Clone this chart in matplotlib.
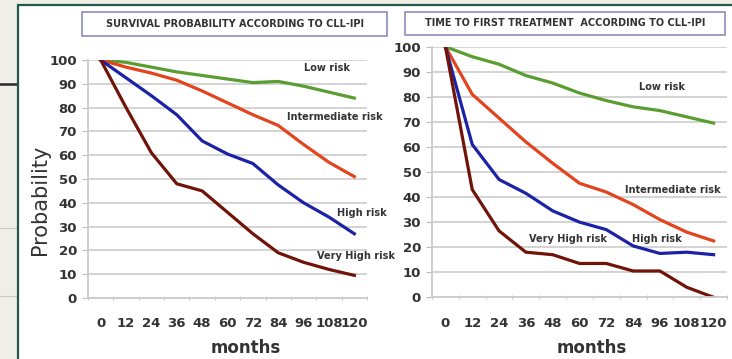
import numpy as np
import matplotlib.pyplot as plt
from matplotlib.patches import Rectangle

plt.rcParams['font.family'] = ['DejaVu Sans']

months = [0, 12, 24, 36, 48, 60, 72, 84, 96, 108, 120]
tick_labels = ['0', '12', '24', '36', '48', '60', '72', '84', '96', '108', '120']

# overall survival by CLL-IPI group (%)
os_low = [100, 99, 97, 95, 93.5, 92, 90.5, 91, 89, 86.5, 84]
os_inter = [100, 97, 94.5, 91.5, 87, 82, 77, 72.5, 64.5, 57, 51]
os_high = [100, 92.5, 85, 77, 66, 60.5, 56.5, 47.5, 40, 34, 27]
os_vhigh = [100, 80, 61, 48, 45, 36, 27, 19, 15, 12, 9.5]

# time to first treatment by CLL-IPI group (%)
ttft_low = [100, 96, 93, 88.5, 85.5, 81.5, 78.5, 76, 74.5, 72, 69.5]
ttft_inter = [100, 81, 71.5, 62, 53.5, 45.5, 42, 37, 31, 26, 22.5]
ttft_high = [100, 61, 47, 41.5, 34.5, 30, 27, 20.5, 17.5, 18, 17]
ttft_vhigh = [100, 43, 26.5, 18, 17, 13.5, 13.5, 10.5, 10.5, 4, 0]

c_low = '#5a9e32'
c_inter = '#e2451e'
c_high = '#1c22a6'
c_vhigh = '#701409'
txt = '#333333'

fig = plt.figure(figsize=(7.32, 3.59), dpi=100)
fig.patch.set_facecolor('#f0efe7')

# white slide panel with dark border (runs off the right and bottom edges)
W, H = 732.0, 359.0
fig.patches.append(Rectangle((18 / W, -0.1), 1.0, 1.1 - 5 / H, transform=fig.transFigure,
                             facecolor='white', edgecolor='#1f5a4a', linewidth=1.6, zorder=-10))
fig.lines.append(plt.Line2D([0, 18 / W], [1 - 84 / H] * 2, transform=fig.transFigure,
                            color='#2a2a2a', linewidth=1.8, zorder=-10))
for yy in (228, 296):
    fig.lines.append(plt.Line2D([0, 18 / W], [1 - yy / H] * 2, transform=fig.transFigure,
                                color='#c8c8c0', linewidth=0.8, zorder=-10))


def setup(ax):
    ax.set_xlim(-6, 126)
    ax.set_ylim(0, 100)
    ax.set_xticks(months)
    ax.set_xticklabels(tick_labels)
    ax.set_xticks(np.arange(-6, 127, 12), minor=True)
    ax.set_yticks(np.arange(0, 101, 10))
    ax.tick_params(axis='x', which='major', length=0, pad=14, labelsize=9.5, labelcolor=txt)
    ax.tick_params(axis='x', which='minor', length=3, color='#bbbbbb', direction='inout')
    ax.tick_params(axis='y', length=4, color='#bbbbbb', pad=4, labelsize=9.5, labelcolor=txt)
    for lab in ax.get_xticklabels() + ax.get_yticklabels():
        lab.set_fontweight('bold')
    ax.grid(axis='y', color='#d0d0d0', linewidth=1.3)
    ax.set_axisbelow(True)
    for s in ('top', 'right'):
        ax.spines[s].set_visible(False)
    for s in ('left', 'bottom'):
        ax.spines[s].set_color('#cccccc')
        ax.spines[s].set_linewidth(1.3)
    ax.set_facecolor('none')
    ax.set_zorder(5)


def title_box(x0, x1, y0, y1, text):
    fig.patches.append(Rectangle((x0 / W, 1 - y1 / H), (x1 - x0) / W, (y1 - y0) / H,
                                 transform=fig.transFigure, facecolor='white',
                                 edgecolor='#8c8cc0', linewidth=1.2, zorder=-5))
    fig.text((x0 + x1) / 2 / W, 1 - (y0 + y1) / 2 / H, text, ha='center', va='center',
             fontsize=7, fontweight='bold', color=txt)


lw = 2.3

# survival
ax1 = fig.add_axes([88 / W, 1 - 298 / H, 279 / W, 238 / H])
setup(ax1)
ax1.plot(months, os_low, color=c_low, lw=lw)
ax1.plot(months, os_inter, color=c_inter, lw=lw)
ax1.plot(months, os_high, color=c_high, lw=lw)
ax1.plot(months, os_vhigh, color=c_vhigh, lw=lw)
lab = dict(ha='center', va='center', fontsize=7, fontweight='bold', color=txt)
ax1.text(107, 96.6, 'Low risk', **lab)
ax1.text(110.7, 76, 'Intermediate risk', **lab)
ax1.text(123.5, 35.7, 'High risk', **lab)
ax1.text(121, 17.6, 'Very High risk', **lab)
title_box(82, 387, 12, 36, 'SURVIVAL PROBABILITY ACCORDING TO CLL-IPI')

# time to first treatment
ax2 = fig.add_axes([432 / W, 1 - 297.3 / H, 295 / W, 250.6 / H])
setup(ax2)
ax2.plot(months, ttft_low, color=c_low, lw=lw)
ax2.plot(months, ttft_inter, color=c_inter, lw=lw)
ax2.plot(months, ttft_high, color=c_high, lw=lw)
ax2.plot(months, ttft_vhigh, color=c_vhigh, lw=lw)
ax2.text(97, 84.1, 'Low risk', **lab)
ax2.text(101.9, 42.9, 'Intermediate risk', **lab)
ax2.text(54.9, 23.3, 'Very High risk', **lab)
ax2.text(94.7, 23.3, 'High risk', **lab)
title_box(405, 725, 12, 35, 'TIME TO FIRST TREATMENT  ACCORDING TO CLL-IPI')

fig.text(40 / W, 1 - 200 / H, 'Probability', rotation=90, ha='center', va='center',
         fontsize=15, color=txt)
fig.text(246 / W, 1 - 348 / H, 'months', ha='center', va='center',
         fontsize=12, fontweight='bold', color=txt)
fig.text(592 / W, 1 - 348 / H, 'months', ha='center', va='center',
         fontsize=12, fontweight='bold', color=txt)

fig.savefig('out.png', dpi=100, facecolor=fig.get_facecolor())
